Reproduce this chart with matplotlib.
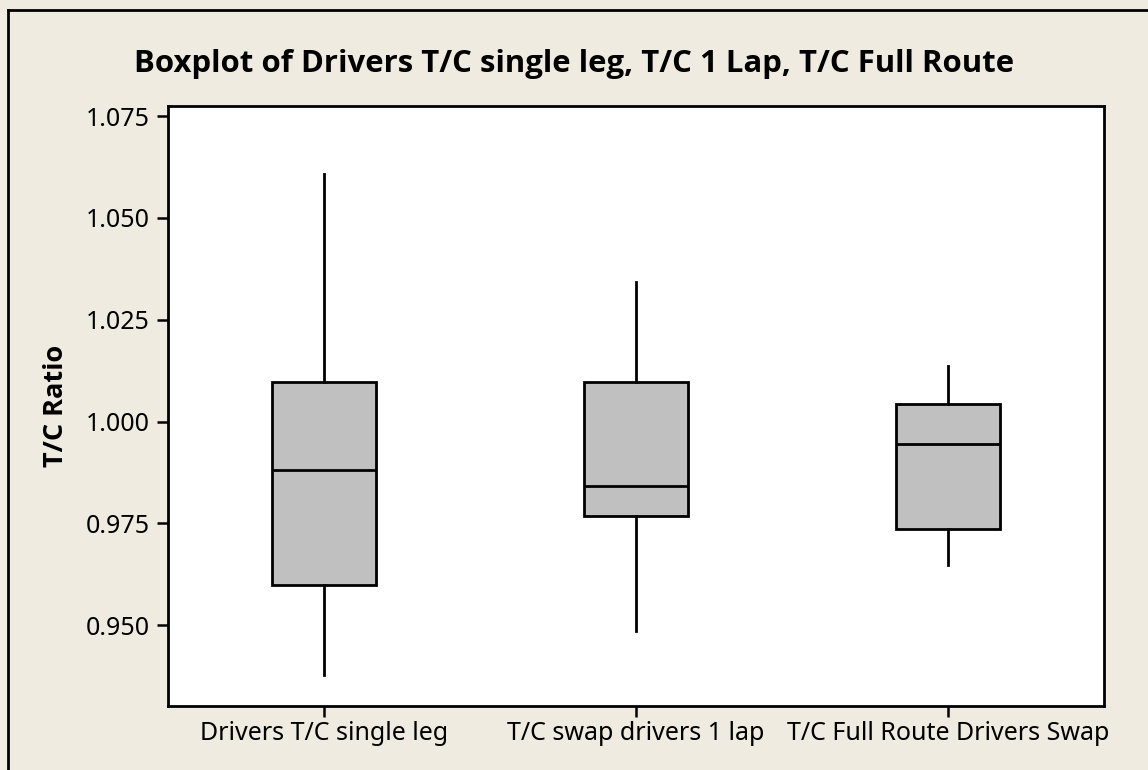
import matplotlib.pyplot as plt
from matplotlib.lines import Line2D

# valores (bigote bajo, Q1, mediana, Q3, bigote alto)
groups = ['Drivers T/C single leg', 'T/C swap drivers 1 lap', 'T/C Full Route Drivers Swap']
whislo = [0.9378, 0.9486, 0.9647]
q1 = [0.9598, 0.9769, 0.9735]
med = [0.9882, 0.9842, 0.9946]
q3 = [1.0098, 1.0097, 1.0043]
whishi = [1.0609, 1.0342, 1.0136]
yticks = [0.950, 0.975, 1.000, 1.025, 1.050, 1.075]

plt.rcParams['font.family'] = ['Noto Sans', 'DejaVu Sans']
bold_font = ['Open Sans', 'DejaVu Sans']
bg = '#EFEBE1'

fig = plt.figure(figsize=(11.48, 7.70), dpi=100, facecolor=bg)
ax = fig.add_axes([168/1148, 1 - 706/770, (1104-168)/1148, (706-106)/770])

stats = []
for i in range(len(groups)):
    stats.append({'whislo': whislo[i], 'q1': q1[i], 'med': med[i],
                  'q3': q3[i], 'whishi': whishi[i], 'label': groups[i]})

ax.bxp(stats, positions=[1, 2, 3], widths=0.333, showfliers=False,
       showcaps=False, patch_artist=True,
       boxprops=dict(facecolor='#C0C0C0', edgecolor='black', linewidth=2),
       medianprops=dict(color='black', linewidth=2),
       whiskerprops=dict(color='black', linewidth=2))

ax.set_xlim(0.5, 3.5)
ax.set_ylim(0.93015, 1.0775)
ax.set_yticks(yticks)
ax.set_yticklabels(['%.3f' % v for v in yticks])
ax.tick_params(axis='both', direction='out', length=8, width=1.8,
               labelsize=18, colors='black')
ax.tick_params(axis='y', pad=5)
ax.tick_params(axis='x', pad=3)
for spine in ax.spines.values():
    spine.set_linewidth(2)

ax.set_ylabel('T/C Ratio', fontsize=19.5, fontweight='bold', family=bold_font, labelpad=12)
fig.text(0.5 + 0/1148, 1 - 64/770, 'Boxplot of Drivers T/C single leg, T/C 1 Lap, T/C Full Route',
         ha='center', va='center', fontsize=22.4, fontweight='bold', family=bold_font)

# marco exterior (izquierda y arriba)
fig.add_artist(Line2D([8/1148, 8/1148], [0, 1 - 10/770], transform=fig.transFigure,
                      color='black', linewidth=2))
fig.add_artist(Line2D([8/1148, 1], [1 - 10/770, 1 - 10/770], transform=fig.transFigure,
                      color='black', linewidth=2))

fig.savefig('out.png', dpi=100, facecolor=bg)
